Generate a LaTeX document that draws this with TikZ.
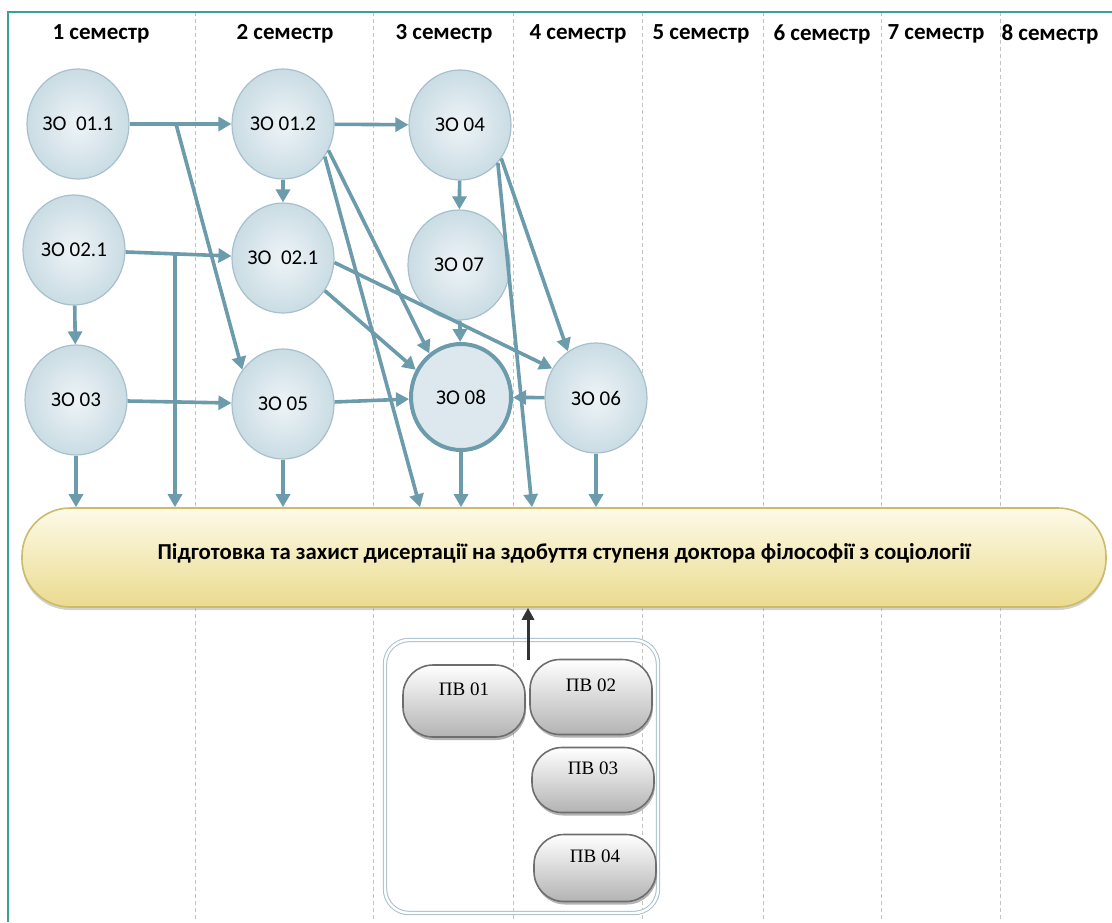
\documentclass[tikz,border=0pt]{standalone}
\usepackage{fontspec}
\setmainfont{Carlito}
\newfontfamily\pvfont{Liberation Serif}
\usetikzlibrary{shapes.geometric, arrows.meta, shadows}
\definecolor{framecol}{HTML}{3E9E9B}
\definecolor{divcol}{HTML}{C4C4C4}
\definecolor{arrowblue}{HTML}{6C9BAC}
\definecolor{zoedge}{HTML}{A7C0CB}
\definecolor{zolight}{HTML}{EEF4F7}
\definecolor{zodark}{HTML}{CADCE4}
\definecolor{zofill}{HTML}{DDE8EE}
\definecolor{bartop}{HTML}{FDFAE8}
\definecolor{barbot}{HTML}{EADB8E}
\definecolor{baredge}{HTML}{CDBB6A}
\definecolor{pvbot}{HTML}{B3B3B3}
\definecolor{pvedge}{HTML}{6E6E6E}
\definecolor{grpcol}{HTML}{A9BFCC}
\tikzstyle{sem}=[font=\fontsize{11.5}{13}\selectfont\bfseries]
\tikzstyle{zo}=[ellipse, minimum width=51pt, minimum height=55pt, inner sep=0pt, draw=zoedge, line width=0.6pt, inner color=zolight, outer color=zodark, font=\fontsize{10.5}{12}\selectfont]
\tikzstyle{zomain}=[ellipse, minimum width=50pt, minimum height=53pt, inner sep=0pt, draw=arrowblue, line width=2pt, fill=zofill, font=\fontsize{10.5}{12}\selectfont]
\tikzstyle{bar}=[rectangle, rounded corners=24pt, minimum width=542pt, minimum height=49.5pt, draw=baredge, line width=0.8pt, top color=bartop, bottom color=barbot, drop shadow={shadow xshift=0pt, shadow yshift=-1.5pt, fill=black!35, opacity=0.5}, font=\fontsize{11.4}{13}\selectfont\bfseries]
\tikzstyle{pv}=[rectangle, rounded corners=15pt, minimum width=61pt, draw=pvedge, line width=0.8pt, top color=white, bottom color=pvbot, drop shadow={shadow xshift=0.5pt, shadow yshift=-1.5pt, fill=black!50, opacity=0.6}, text depth=12pt, font=\pvfont\fontsize{9.5}{11}\selectfont]
\tikzstyle{grp}=[rectangle, rounded corners=12pt, minimum width=136.5pt, minimum height=136.5pt, draw=grpcol, line width=0.5pt, double, double distance=1.2pt]
\tikzstyle{divider}=[draw=divcol, line width=0.4pt, dash pattern=on 2pt off 1.5pt]
\tikzstyle{arrow}=[line width=1.8pt, draw=arrowblue, -{Triangle[length=6.5pt,width=7pt]}]
\tikzstyle{arrowblk}=[line width=1.5pt, draw=black!80, -{Triangle[length=6pt,width=6pt]}]

\begin{document}
\begin{tikzpicture}[x=0.5pt, y=-0.5pt]
		\useasboundingbox (0,0) rectangle (1112,922);
		\foreach \x in {195,373,513,642,763,881,1000}
			\draw[divider] (\x,12) -- (\x,922);
		\draw[framecol, line width=1pt] (8,922) -- (8,12) -- (1112,12);
		
		\foreach \n/\x in {1/101,2/285,3/444,4/578,5/701,6/822,7/936,8/1050}
			\node(sem\n)[sem] at (\x,34) {\n{} семестр};
		
		\node(zo011)[zo] at (78,124) {ЗО\ \ 01.1};
		\node(zo012)[zo] at (283,124) {ЗО 01.2};
		\node(zo04)[zo] at (460,125) {ЗО 04};
		\node(zo021a)[zo] at (74,250) {ЗО 02.1};
		\node(zo021b)[zo] at (283,258) {ЗО\ \ 02.1};
		\node(zo07)[zo] at (459,265) {ЗО 07};
		\node(zo03)[zo] at (76,400) {ЗО 03};
		\node(zo05)[zo] at (283,404) {ЗО 05};
		\node(zo08)[zomain] at (461,397) {ЗО 08};
		\node(zo06)[zo] at (596,398) {ЗО 06};
		
		\node(bar)[bar] at (564,557.5) {\raisebox{6pt}{Підготовка та захист дисертації на здобуття ступеня доктора філософії з соціології}};
		
		\node(grp)[grp] at (521.5,776.5) {};
		\node(pv01)[pv, minimum height=36pt] at (464,701) {ПВ 01};
		\node(pv02)[pv, minimum height=37.5pt] at (591,697) {ПВ 02};
		\node(pv03)[pv, minimum height=32.5pt] at (593,780) {ПВ 03};
		\node(pv04)[pv, minimum height=33.5pt] at (595,868) {ПВ 04};
		
		\coordinate(b1) at (176,124);
		\coordinate(b2) at (175,254);
		\coordinate(pvout) at (528,660);
		
		\draw[arrow](zo011)--(zo012);
		\draw[arrow](b1)--(zo05.140);
		\draw[arrow](zo012)--(zo04);
		\draw[arrow](zo012)--(zo021b);
		\draw[arrow](zo012.-30)--(zo08.126);
		\draw[arrow](zo012.-38)--(420,0 |- bar.north);
		\draw[arrow](zo021a)--(zo021b);
		\draw[arrow](b2)--(b2 |- bar.north);
		\draw[arrow](zo021a)--(zo03);
		\draw[arrow](zo021b.-38)--(zo08.149);
		\draw[arrow](zo021b.-5)--(zo06.146);
		\draw[arrow](zo03)--(zo05);
		\draw[arrow](zo05)--(zo08);
		\draw[arrow](zo04)--(zo07);
		\draw[arrow](zo07)--(zo08);
		\draw[arrow](zo04.-39)--(zo06.121);
		\draw[arrow](zo04.-45)--(532,0 |- bar.north);
		\draw[arrow](zo06)--(zo08);
		\foreach \z in {zo03,zo05,zo08,zo06}
			\draw[arrow](\z)--(\z |- bar.north);
		\draw[arrowblk](pvout)--(pvout |- bar.south);
	\end{tikzpicture}
\end{document}
